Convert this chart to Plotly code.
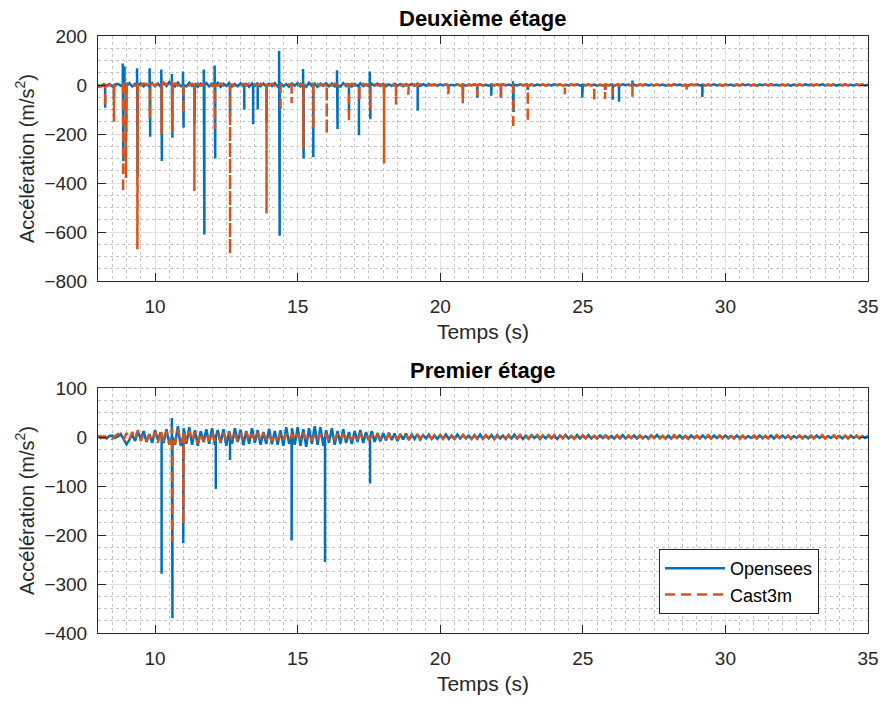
import numpy as np
import plotly.graph_objects as go

# ---------------- DATA ----------------
# sampling times (s) of the background signal: 8.0 .. 35.0 every 0.1 s
t_grid = np.round(8.0 + 0.1 * np.arange(271), 2)

# --- Deuxième étage : Opensees background (m/s2), one row per second starting at 8 s
top_open_bg = [
    0, -5, 3, -2, 4, -6, 2, 5, -3, 6,
    -4, 8, -6, 5, -3, 7, -5, 4, -6, 8,
    -5, 6, -7, 9, -4, 12, 8, -6, 10, -5,
    7, -6, 9, -4, 6, -8, 5, -3, 8, -6,
    6, -5, 9, -7, 5, -4, 8, -6, 4, -5,
    7, -6, 5, -8, 6, -4, 9, -5, 6, -7,
    5, -4, 8, -6, 7, -5, 4, -7, 6, -3,
    8, -6, 5, -7, 9, -4, 6, -8, 5, -4,
    7, -5, 6, -6, 4, -7, 8, -4, 5, -6,
    5, -4, 7, -5, 3, -6, 5, -3, 6, -4,
    4, -5, 3, -4, 5, -3, 4, -5, 3, -2,
    4, -3, 5, -4, 3, -3, 4, -2, 3, -3,
    3, -2, 2, -3, 1, -2, 3, -2, 2, -3,
    2, -1, 3, -2, 2, -2, 1, -3, 2, -1,
    2, -2, 3, -1, 2, -2, 1, -2, 3, -1,
    2, -2, 1, -3, 2, -1, 2, -2, 1, -2,
    3, -1, 2, -2, 1, -2, 2, -1, 3, -2,
    1, -2, 2, -1, 2, -3, 1, -2, 2, -1,
    2, -3, 1, -2, 3, -1, 2, -2, 1, -3,
    2, -1, 3, -2, 1, -2, 2, -1, 2, -3,
    1, -2, 3, -1, 2, -2, 1, -3, 2, -1,
    3, -2, 1, -2, 2, -1, 3, -2, 1, -2,
    2, -1, 2, -3, 1, -2, 3, -1, 2, -2,
    1, -3, 2, -1, 2, -2, 3, -1, 1, -2,
    2, -2, 1, -3, 2, -1, 2, -2, 3, -1,
    1, -2, 2, -1, 3, -2, 1, -2, 2, -3,
    2, -1, 3, -2, 1, -2, 2, -1, 2, -2,
    1,
]
top_open_spike_t = [8.25, 8.56, 8.87, 8.89, 8.93, 8.99, 9.37, 9.39, 9.81, 9.83,
                    10.22, 10.24, 10.59, 10.61, 10.98, 11.0, 11.38, 11.71, 11.73, 12.09,
                    12.11, 12.63, 13.13, 13.44, 13.6, 13.91, 14.35, 14.37, 15.19, 15.21,
                    15.55, 16.38, 16.4, 16.8, 17.15, 17.53, 17.55, 18.03, 19.21, 20.79,
                    21.3, 21.79, 22.13, 22.55, 22.57, 23.07, 24.98, 25.78, 26.05, 26.27,
                    26.74, 29.19]
top_open_spike_v = [-93, -60, 88, -310, 75, -190, 68, -372, 68, -211,
                    63, -310, 45, -215, 55, -174, -160, 63, -610, 80,
                    -300, -130, -100, -160, -100, -155, 140, -615, 65, -300,
                    -295, 60, -180, -110, -205, 55, -140, -40, -105, -40,
                    -52, -44, -52, 15, -110, -20, -52, -20, -60, -68,
                    18, -49]

# --- Deuxième étage : Cast3m background
top_cast_bg = [
    -8, -4, -2, -5, -3, 2, -4, 3, -2, 6,
    4, 12, 2, -3, 5, -2, 6, 3, -4, 5,
    -3, 8, -2, 10, 4, -5, 12, 6, -3, 8,
    -4, 6, -2, 5, -5, 7, -3, 4, -2, 6,
    -5, 4, -3, 6, -2, 5, -4, 3, -2, 5,
    -3, 4, -2, 6, -4, 3, -2, 5, -3, 4,
    -2, 5, -3, 4, -4, 6, -2, 3, -3, 4,
    -2, 5, -4, 3, -2, 6, -3, 4, -2, 3,
    -3, 4, -2, 5, -3, 3, -2, 4, -3, 5,
    -2, 3, -3, 4, -2, 3, -1, 4, -2, 3,
    -2, 3, -2, 2, -3, 3, -1, 2, -2, 3,
    -1, 2, -2, 3, -1, 2, -2, 1, -1, 2,
    2, -1, 3, -2, 1, -2, 2, -1, 3, -2,
    1, -2, 2, -1, 3, -2, 1, -1, 2, -2,
    3, -1, 2, -2, 1, -2, 3, -1, 2, -2,
    1, -2, 3, -1, 2, -1, 2, -2, 1, -2,
    2, -1, 3, -2, 1, -2, 2, -1, 2, -2,
    3, -1, 2, -2, 1, -2, 2, -1, 2, -2,
    1, -2, 2, -1, 3, -2, 1, -2, 2, -1,
    2, -2, 1, -3, 2, -1, 2, -2, 3, -1,
    1, -2, 2, -1, 2, -3, 1, -2, 2, -1,
    2, -1, 3, -2, 1, -2, 2, -1, 2, -3,
    1, -2, 2, -1, 3, -2, 1, -2, 2, -1,
    2, -3, 1, -2, 2, -1, 3, -2, 1, -2,
    2, -1, 2, -2, 1, -3, 2, -1, 2, -2,
    3, -1, 2, -2, 1, -2, 2, -1, 3, -2,
    1, -2, 2, -1, 2, -2, 3, -1, 2, -2,
    1,
]
top_cast_spike_t = [8.25, 8.56, 8.88, 8.98, 9.38, 9.82, 10.23, 10.6, 10.99, 11.38,
                    12.1, 12.63, 13.91, 14.4, 14.79, 15.2, 15.55, 16.02, 16.8, 17.17,
                    17.54, 18.03, 18.45, 18.88, 20.28, 20.79, 21.3, 22.13, 22.56, 23.07,
                    24.37, 25.4, 25.78, 26.05, 26.74, 28.64]
top_cast_spike_v = [-90, -150, -440, -380, -670, -140, -200, -190, -120, -433,
                    -180, -690, -525, -110, -75, -260, -180, -200, -155, -65,
                    -100, -320, -80, -40, -40, -75, -45, -52, -180, -152,
                    -38, -70, -57, -40, -48, -20]

# --- Premier étage : Opensees background
bot_open_bg = [
    2, -2, 1, -3, 2, 3, -2, 1, 6, -4,
    -15, -6, 5, -8, 10, -3, 12, -10, 6, -12,
    14, -6, 10, -12, 16, -14, 20, -16, 22, -18,
    18, -14, 20, -16, 14, -18, 12, -10, 16, -14,
    18, -16, 14, -12, 16, -18, 12, -14, 18, -10,
    15, -17, 12, -14, 18, -12, 14, -16, 10, -14,
    17, -15, 12, -16, 14, -18, 20, -14, 18, -16,
    20, -18, 16, -20, 18, -14, 22, -16, 20, -18,
    14, -12, 18, -16, 12, -14, 16, -12, 10, -14,
    12, -10, 14, -12, 10, -8, 12, -10, 8, -9,
    8, -7, 9, -6, 7, -8, 6, -5, 7, -6,
    5, -4, 6, -5, 4, -3, 5, -4, 3, -4,
    4, -3, 5, -4, 3, -4, 5, -3, 4, -3,
    3, -4, 4, -3, 5, -4, 3, -3, 4, -4,
    4, -3, 3, -4, 4, -3, 5, -3, 3, -4,
    3, -3, 4, -2, 3, -4, 3, -3, 4, -2,
    3, -4, 3, -3, 4, -3, 2, -3, 4, -3,
    3, -2, 4, -3, 2, -3, 3, -2, 3, -3,
    2, -3, 3, -2, 4, -3, 2, -2, 3, -3,
    3, -2, 2, -3, 3, -2, 4, -2, 2, -3,
    3, -3, 2, -2, 3, -3, 2, -3, 3, -2,
    2, -3, 3, -2, 2, -3, 3, -2, 3, -2,
    3, -2, 2, -3, 3, -2, 2, -3, 2, -2,
    2, -3, 3, -2, 2, -2, 3, -3, 2, -2,
    3, -2, 2, -3, 2, -2, 3, -2, 2, -3,
    2, -2, 3, -2, 2, -3, 2, -2, 3, -2,
    2, -3, 2, -2, 3, -2, 2, -3, 2, -2,
    2,
]
bot_open_spike_t = [10.23, 10.59, 10.61, 10.99, 12.13, 12.63, 14.79, 15.96, 17.54]
bot_open_spike_v = [-279, 39, -370, -217, -106, -47, -211, -255, -95]

# --- Premier étage : Cast3m background
bot_cast_bg = [
    0, 2, -2, 3, -1, -4, 2, 6, -3, -5,
    8, -6, 10, -4, 14, -8, 6, -5, 4, -8,
    10, -12, 14, -10, 12, -16, 18, -14, 16, -12,
    14, -10, 12, -8, 10, -12, 8, -10, 6, -8,
    10, -8, 6, -10, 8, -6, 10, -8, 6, -9,
    8, -6, 10, -8, 6, -7, 9, -6, 8, -5,
    6, -8, 5, -6, 8, -5, 7, -6, 5, -7,
    6, -5, 8, -4, 6, -7, 5, -6, 7, -4,
    5, -6, 4, -5, 6, -4, 5, -5, 4, -6,
    5, -4, 6, -3, 4, -5, 3, -4, 5, -3,
    4, -3, 5, -4, 3, -3, 4, -2, 3, -4,
    3, -3, 4, -2, 3, -3, 2, -3, 4, -2,
    3, -4, 4, -3, 2, -4, 3, -3, 4, -2,
    4, -3, 2, -4, 3, -3, 4, -2, 3, -4,
    3, -2, 4, -3, 3, -4, 2, -3, 4, -3,
    2, -4, 3, -3, 4, -2, 3, -4, 2, -3,
    4, -3, 3, -2, 4, -3, 2, -4, 3, -3,
    3, -3, 4, -2, 2, -3, 4, -3, 3, -2,
    4, -2, 3, -3, 2, -4, 3, -2, 4, -3,
    3, -3, 2, -4, 3, -2, 4, -3, 2, -3,
    2, -3, 4, -2, 3, -3, 2, -4, 3, -2,
    3, -2, 3, -3, 4, -2, 2, -3, 3, -3,
    4, -3, 2, -2, 3, -4, 3, -2, 2, -3,
    3, -2, 4, -3, 2, -3, 3, -2, 4, -2,
    2, -3, 3, -4, 2, -2, 3, -3, 4, -2,
    3, -3, 2, -2, 4, -3, 2, -3, 3, -2,
    4, -2, 3, -3, 2, -3, 3, -2, 2, -3,
    3,
]
bot_cast_spike_t = [10.6, 10.99]
bot_cast_spike_v = [-212, -178]

series_names = ["Opensees", "Cast3m"]
panel_titles = ["Deuxième étage", "Premier étage"]
x_tick_vals = [10, 15, 20, 25, 30, 35]
top_y_ticks = [-800, -600, -400, -200, 0, 200]
bot_y_ticks = [-400, -300, -200, -100, 0, 100]

# ---------------- BUILD ----------------
def merge(bg, st, sv):
    # background samples plus each spike drawn as an impulse (0 -> peak -> 0) at its time
    ts = [float(x) for x in t_grid]
    vs = [float(x) for x in bg]
    for t, v in zip(st, sv):
        ts += [t, t, t]
        vs += [0.0, float(v), 0.0]
    ts = np.array(ts)
    vs = np.array(vs)
    o = np.argsort(ts, kind="stable")
    return ts[o], vs[o]

BLUE = "#0072BD"
ORANGE = "#D95319"
INK = "#262626"
FONT = "Liberation Sans, Arial, Helvetica, sans-serif"

fig = go.Figure()

specs = [
    ("x", "y", top_open_bg, top_open_spike_t, top_open_spike_v, 0, False),
    ("x", "y", top_cast_bg, top_cast_spike_t, top_cast_spike_v, 1, False),
    ("x2", "y2", bot_open_bg, bot_open_spike_t, bot_open_spike_v, 0, True),
    ("x2", "y2", bot_cast_bg, bot_cast_spike_t, bot_cast_spike_v, 1, True),
]
for xa, ya, bg, st, sv, k, leg in specs:
    t, v = merge(bg, st, sv)
    fig.add_trace(go.Scatter(
        x=t, y=v, xaxis=xa, yaxis=ya, mode="lines", name=series_names[k],
        showlegend=leg,
        line=dict(color=BLUE if k == 0 else ORANGE, width=2.5,
                  dash="solid" if k == 0 else "10px,6px"),
    ))

W, H = 885, 706
xdom = [98 / W, 868 / W]
top_dom = [(H - 281) / H, (H - 36) / H]
bot_dom = [(H - 633) / H, (H - 388) / H]

def xaxis(anchor):
    return dict(
        domain=xdom, anchor=anchor, range=[8, 35], tickvals=x_tick_vals,
        automargin=False,
        ticks="inside", ticklen=8, tickwidth=1, tickcolor=INK,
        showline=True, linecolor=INK, linewidth=1, mirror="ticks",
        showgrid=True, gridcolor="#e1e1e1", gridwidth=1, zeroline=False,
        minor=dict(dtick=0.5, tick0=0, showgrid=True, gridcolor="#c4c4c4",
                   griddash="dot", gridwidth=1, ticks=""),
        tickfont=dict(size=19, color=INK, family=FONT),
        ticklabelstandoff=8,
        title=dict(text="Temps (s)", font=dict(size=21, color=INK, family=FONT), standoff=8),
    )

def yaxis(anchor, dom, rng, tv, minor_dt):
    return dict(
        domain=dom, anchor=anchor, range=rng, tickvals=tv,
        automargin=False,
        ticks="inside", ticklen=8, tickwidth=1, tickcolor=INK,
        showline=True, linecolor=INK, linewidth=1, mirror="ticks",
        showgrid=True, gridcolor="#e1e1e1", gridwidth=1, zeroline=False,
        minor=dict(dtick=minor_dt, tick0=0, showgrid=True, gridcolor="#c4c4c4",
                   griddash="dot", gridwidth=1, ticks=""),
        tickfont=dict(size=19, color=INK, family=FONT),
        ticklabelstandoff=6,
        title=dict(text="Accélération (m/s<sup>2</sup>)",
                   font=dict(size=20, color=INK, family=FONT), standoff=4),
    )

fig.update_layout(
    width=W, height=H,
    margin=dict(l=0, r=0, t=0, b=0, autoexpand=False),
    paper_bgcolor="white", plot_bgcolor="white",
    font=dict(family=FONT, color=INK),
    xaxis=xaxis("y"),
    yaxis=yaxis("x", top_dom, [-800, 200], top_y_ticks, 50),
    xaxis2=xaxis("y2"),
    yaxis2=yaxis("x2", bot_dom, [-400, 100], bot_y_ticks, 25),
    legend=dict(x=659 / W, y=(H - 549) / H, xanchor="left", yanchor="top",
                bgcolor="white", bordercolor=INK, borderwidth=1,
                font=dict(size=18, color="black", family=FONT),
                itemwidth=60, tracegroupgap=2),
    showlegend=True,
)

cx = (xdom[0] + xdom[1]) / 2
for text, ypx in [(panel_titles[0], 18), (panel_titles[1], 370)]:
    fig.add_annotation(
        x=cx, y=(H - ypx) / H, xref="paper", yref="paper",
        text="<b>" + text + "</b>", showarrow=False,
        xanchor="center", yanchor="middle",
        font=dict(size=22, color="black", family=FONT),
    )

fig.write_html("out.html", config={"displayModeBar": False},
               post_script="document.body.style.margin='0';document.body.style.overflow='hidden';")
